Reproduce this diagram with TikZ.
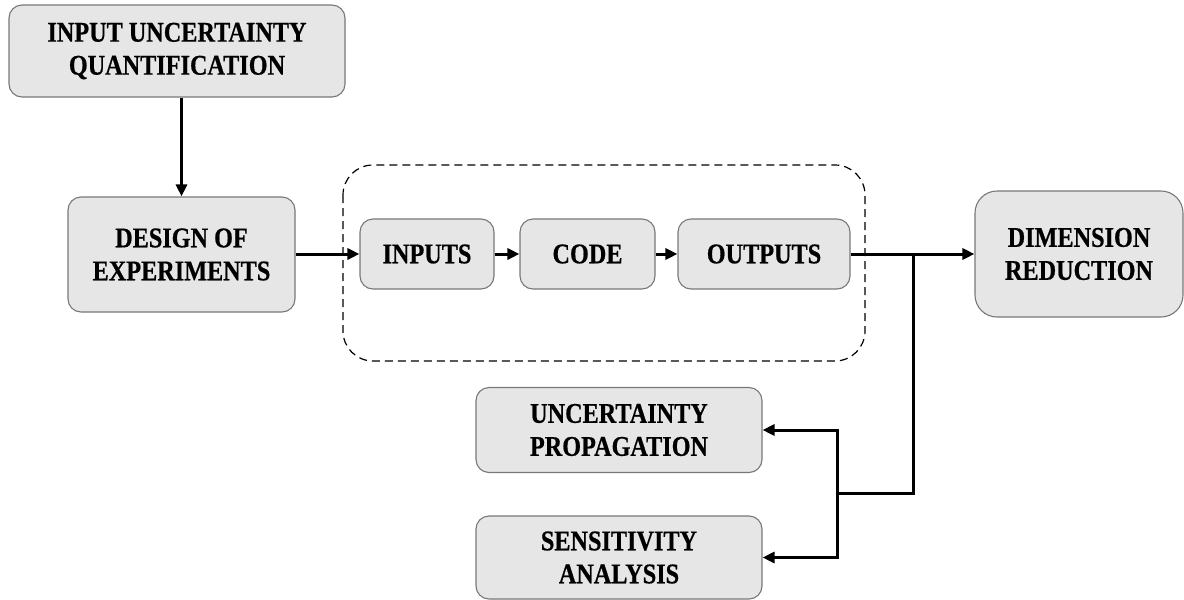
\documentclass[tikz,border=0pt]{standalone}
\usepackage{fontspec}
\setmainfont{Liberation Serif}
\newfontfamily\boxfont[FakeStretch=0.85,FakeBold=0.6]{Liberation Serif}
\usetikzlibrary{arrows.meta,calc}
\definecolor{boxfill}{RGB}{230,230,230}
\definecolor{boxline}{RGB}{120,120,120}
\begin{document}
\begin{tikzpicture}[x=1pt,y=-1pt,
  blk/.style={draw=boxline,line width=1.1pt,fill=boxfill,rounded corners=13pt,
    align=center,inner sep=0pt,
    font=\boxfont\fontsize{28.5}{33}\selectfont\bfseries},
  conn/.style={line width=3pt,-{Triangle[length=12pt,width=11pt]}},
  plain/.style={line width=3pt}]
\useasboundingbox (0,0) rectangle (1184,600);
\node[blk,minimum width=336pt,minimum height=92pt] (iuq) at (177,51) {INPUT UNCERTAINTY\\QUANTIFICATION};
\node[blk,minimum width=227pt,minimum height=115pt] (doe) at (181.5,254.5) {DESIGN OF\\EXPERIMENTS};
\draw[dash pattern=on 8pt off 5pt,line width=1.2pt,rounded corners=30pt] (343,165) rectangle (865,361);
\node[blk,minimum width=134pt,minimum height=70pt] (inp) at (427,254) {INPUTS};
\node[blk,minimum width=135pt,minimum height=70pt] (code) at (587.5,254) {CODE};
\node[blk,minimum width=172pt,minimum height=70pt] (out) at (764,254) {OUTPUTS};
\node[blk,minimum width=208pt,minimum height=126pt,rounded corners=22pt] (dr) at (1079,254) {DIMENSION\\REDUCTION};
\node[blk,minimum width=286pt,minimum height=85pt] (up) at (619,430) {UNCERTAINTY\\PROPAGATION};
\node[blk,minimum width=286pt,minimum height=83pt] (sa) at (619,557.5) {SENSITIVITY\\ANALYSIS};
\coordinate (j1) at (913,254);
\coordinate (j2) at (913,493);
\coordinate (j3) at (837,493);
\draw[conn] (doe.north |- iuq.south) -- (doe.north);
\draw[conn] (doe.east |- inp.west) -- (inp.west);
\draw[conn] (inp) -- (code);
\draw[conn] (code) -- (out);
\draw[conn] (out.east) -- (dr.west |- out.east);
\draw[plain] (j1) -- (j2) -- (j3);
\draw[conn] (j3) |- (up.east);
\draw[conn] (j3) |- (sa.east);
\end{tikzpicture}
\end{document}
